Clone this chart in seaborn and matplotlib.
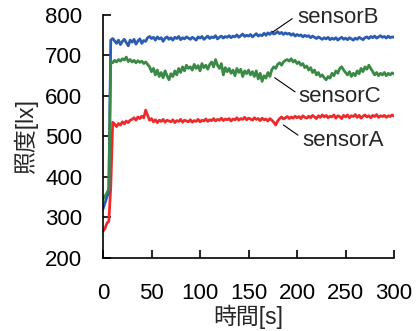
import numpy as np
import pandas as pd
import matplotlib
matplotlib.use("Agg")
import matplotlib.pyplot as plt
import seaborn as sns

# time axis: one sample every 2 s
time_s = np.arange(0, 301, 2)

sensor_b = [
    320, 335, 350, 362, 738,
    742, 736, 730, 738, 727, 735, 740, 732, 724, 738,
    733, 740, 728, 736, 741, 730, 737, 735, 744, 747,
    742, 745, 738, 746, 741, 744, 735, 743, 746, 740,
    744, 738, 745, 742, 747, 739, 744, 741, 746, 743,
    740, 745, 742, 738, 746, 743, 747, 740, 744, 748,
    742, 746, 744, 749, 741, 745, 748, 743, 747, 745,
    749, 744, 748, 746, 751, 745, 749, 753, 747, 750,
    748, 752, 746, 750, 754, 748, 751, 749, 755, 750,
    756, 752, 758, 753, 755, 759, 754, 757, 752, 756,
    753, 755, 750, 754, 748, 752, 749, 751, 746, 750,
    747, 749, 744, 748, 745, 742, 746, 743, 740, 744,
    741, 745, 739, 743, 740, 744, 738, 742, 745, 740,
    743, 739, 744, 741, 738, 743, 740, 745, 742, 739,
    744, 746, 742, 747, 744, 748, 743, 746, 749, 745,
    747, 743, 748, 744, 746, 745,
]

sensor_c = [
    345, 352, 360, 370, 685,
    682, 688, 684, 690, 686, 692, 689, 696, 685, 690,
    684, 688, 682, 687, 683, 686, 680, 684, 678, 672,
    660, 668, 652, 664, 648, 658, 645, 662, 650, 640,
    655, 648, 662, 652, 668, 658, 672, 662, 676, 668,
    672, 664, 678, 668, 675, 662, 680, 670, 676, 666,
    678, 684, 672, 690, 676, 668, 680, 652, 670, 660,
    668, 656, 664, 650, 668, 658, 666, 648, 662, 655,
    664, 652, 660, 648, 662, 642, 656, 636, 650, 644,
    658, 648, 665, 672, 668, 678, 682, 676, 684, 688,
    690, 686, 692, 684, 688, 680, 684, 676, 680, 670,
    674, 664, 670, 658, 664, 652, 658, 648, 652, 645,
    640, 648, 644, 656, 650, 662, 656, 668, 672, 664,
    658, 652, 660, 648, 656, 650, 662, 655, 668, 660,
    672, 666, 676, 668, 660, 652, 658, 650, 656, 652,
    658, 650, 656, 652, 657, 654,
]

sensor_a = [
    265, 272, 285, 290, 375,
    535, 530, 524, 532, 528, 536, 531, 538, 534, 540,
    542, 546, 540, 548, 544, 550, 546, 565, 552, 540,
    544, 536, 541, 534, 540, 537, 542, 535, 540, 538,
    536, 541, 534, 539, 537, 542, 535, 540, 538, 536,
    541, 535, 539, 537, 542, 536, 540, 538, 543, 537,
    541, 539, 544, 538, 542, 540, 545, 539, 543, 541,
    544, 538, 543, 541, 546, 540, 544, 542, 547, 541,
    545, 543, 540, 546, 542, 544, 539, 545, 541, 543,
    538, 544, 540, 535, 528, 538, 544, 548, 543, 546,
    549, 544, 548, 545, 550, 546, 549, 544, 551, 547,
    545, 550, 546, 552, 548, 544, 551, 547, 553, 548,
    552, 546, 550, 548, 553, 545, 551, 549, 544, 552,
    548, 553, 546, 551, 549, 554, 547, 552, 545, 550,
    553, 548, 551, 546, 552, 549, 554, 547, 551, 549,
    552, 547, 551, 549, 553, 550,
]

series_names = ["sensorA", "sensorB", "sensorC"]
colors = {"sensorA": "#ee2b2b", "sensorB": "#2a5cb3", "sensorC": "#3a8a45"}

# label text, line start on curve (t, lux), line end (t, lux), text anchor (t, lux)
notes = [
    ("sensorB", (175, 758), (195, 791), (200, 795)),
    ("sensorC", (177, 645), (198, 610), (201, 598)),
    ("sensorA", (186, 528), (201, 503), (205, 491)),
]

df = pd.DataFrame({
    "time": np.tile(time_s, 3),
    "lux": sensor_a + sensor_b + sensor_c,
    "sensor": np.repeat(series_names, len(time_s)),
})

sns.set_style("ticks")
plt.rcParams["font.family"] = ["Liberation Sans", "Noto Sans CJK JP", "DejaVu Sans"]

fig = plt.figure(figsize=(4.17, 3.31), dpi=100)
ax = fig.add_axes([0.247, 0.2215, 0.698, 0.733])

sns.lineplot(data=df, x="time", y="lux", hue="sensor", palette=colors,
             linewidth=2.0, legend=False, ax=ax)

for label, start, end, txt in notes:
    ax.plot([start[0], end[0]], [start[1], end[1]], color="black", lw=0.8)
    ax.text(txt[0], txt[1], label, fontsize=16, ha="left", va="center")

ax.set_xlim(0, 300)
ax.set_ylim(200, 800)
ax.set_xticks([0, 50, 100, 150, 200, 250, 300])
ax.set_yticks([200, 300, 400, 500, 600, 700, 800])
ax.tick_params(axis="both", direction="in", length=6, width=1.2,
               labelsize=16, colors="black")
ax.tick_params(axis="x", pad=18)
ax.tick_params(axis="y", pad=15)
for side in ["left", "bottom"]:
    ax.spines[side].set_linewidth(1.2)
    ax.spines[side].set_color("black")
sns.despine(ax=ax)

ax.set_xlabel("時間[s]", fontsize=16.5, labelpad=1)
ax.set_ylabel("照度[lx]", fontsize=16.5, labelpad=5)

fig.savefig("out.png", dpi=100)
